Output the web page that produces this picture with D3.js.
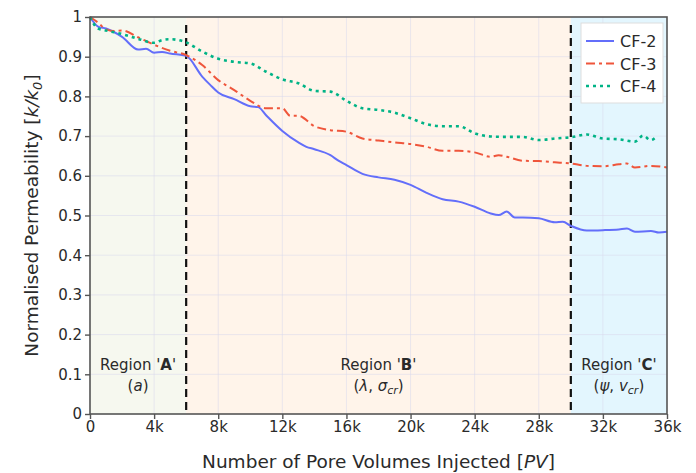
<!DOCTYPE html>
<html>
<head>
<meta charset="utf-8">
<script src="https://cdn.jsdelivr.net/npm/d3@7"></script>
<style>
  body { margin: 0; background: #fff; }
  text { font-family: Verdana, "DejaVu Sans", sans-serif; fill: #2a2a2a; }
</style>
</head>
<body>
<div class="chart"></div>
<script>
// pore volumes injected, in thousands
var pv2 = [0, 0.5, 1, 2, 3, 3.5, 4, 4.5, 5, 6, 7, 7.5, 8, 9, 10, 10.5, 11, 12, 13, 13.5, 14, 15, 15.5, 16, 17, 18, 19, 20, 21, 22, 23, 24, 25, 25.5, 26, 26.5, 27, 28, 29, 29.5, 30, 31, 32, 33, 33.5, 34, 35, 35.5, 36];
var cf2 = [1.0, 0.976, 0.971, 0.95, 0.918, 0.92, 0.91, 0.912, 0.908, 0.902, 0.85, 0.829, 0.81, 0.793, 0.775, 0.773, 0.752, 0.713, 0.684, 0.673, 0.667, 0.652, 0.638, 0.627, 0.605, 0.596, 0.59, 0.577, 0.557, 0.541, 0.535, 0.522, 0.505, 0.501, 0.51, 0.495, 0.495, 0.493, 0.483, 0.484, 0.474, 0.462, 0.463, 0.465, 0.467, 0.459, 0.461, 0.457, 0.459];

var pv3 = [0, 0.5, 1, 1.5, 2, 3, 4, 5, 6, 7, 8, 9, 10, 11, 12, 12.5, 13, 14, 15, 16, 17, 18, 19, 20, 21, 22, 23, 24, 25, 25.5, 26, 27, 28, 29, 30, 31, 32, 33, 33.5, 34, 35, 36];
var cf3 = [1.0, 0.986, 0.969, 0.965, 0.966, 0.949, 0.93, 0.915, 0.904, 0.879, 0.841, 0.816, 0.789, 0.77, 0.77, 0.751, 0.751, 0.725, 0.715, 0.711, 0.694, 0.689, 0.684, 0.68, 0.673, 0.663, 0.663, 0.659, 0.648, 0.652, 0.648, 0.638, 0.637, 0.634, 0.631, 0.625, 0.624, 0.629, 0.631, 0.621, 0.625, 0.621];

var pv4 = [0, 0.5, 1, 2, 3, 4, 4.5, 5, 6, 7, 8, 9, 10, 11, 12, 13, 14, 15, 16, 17, 18, 19, 20, 21, 22, 23, 24, 25, 26, 27, 28, 29, 30, 31, 32, 33, 34, 34.5, 35, 35.3];
var cf4 = [1.0, 0.971, 0.966, 0.957, 0.945, 0.935, 0.942, 0.944, 0.936, 0.913, 0.895, 0.887, 0.883, 0.862, 0.843, 0.833, 0.814, 0.812, 0.789, 0.77, 0.766, 0.759, 0.745, 0.73, 0.725, 0.725, 0.707, 0.699, 0.698, 0.698, 0.69, 0.694, 0.697, 0.704, 0.694, 0.692, 0.686, 0.701, 0.69, 0.697];

var xTicks = [0, 4, 8, 12, 16, 20, 24, 28, 32, 36];
var yTicks = [0, 0.1, 0.2, 0.3, 0.4, 0.5, 0.6, 0.7, 0.8, 0.9, 1];

var seriesNames = ["CF-2", "CF-3", "CF-4"];
var seriesColors = ["#636efa", "#ef553b", "#00b386"];
var seriesDash = [null, "9,4,3,4", "3,4"];

// region boundaries (thousand PV)
var regionEdges = [0, 6, 30, 36];
var regionColors = ["#f6f8ef", "#fff4ea", "#e3f6fe"];

var svgWidth = 696, svgHeight = 473;
var margin = { top: 17, bottom: 59, right: 29, left: 90 };
var width = svgWidth - margin.left - margin.right;
var height = svgHeight - margin.top - margin.bottom;

var svg = d3.select(".chart").append("svg")
  .attr("width", svgWidth)
  .attr("height", svgHeight);

var chartGroup = svg.append("g")
  .attr("transform", `translate(${margin.left}, ${margin.top})`);

var xScale = d3.scaleLinear().domain([0, 36]).range([0, width]);
var yScale = d3.scaleLinear().domain([0, 1]).range([height, 0]);

// region shading
for (var i = 0; i < 3; i++) {
  chartGroup.append("rect")
    .attr("x", xScale(regionEdges[i]))
    .attr("y", 0)
    .attr("width", xScale(regionEdges[i + 1]) - xScale(regionEdges[i]))
    .attr("height", height)
    .attr("fill", regionColors[i]);
}

// grid
chartGroup.append("g").selectAll("line").data(xTicks.slice(1, -1)).enter()
  .append("line")
  .attr("x1", d => xScale(d)).attr("x2", d => xScale(d))
  .attr("y1", 0).attr("y2", height)
  .attr("stroke", "#d8d8ec").attr("stroke-opacity", 0.55).attr("stroke-width", 1);
chartGroup.append("g").selectAll("line").data(yTicks.slice(1, -1)).enter()
  .append("line")
  .attr("y1", d => yScale(d)).attr("y2", d => yScale(d))
  .attr("x1", 0).attr("x2", width)
  .attr("stroke", "#d8d8ec").attr("stroke-opacity", 0.55).attr("stroke-width", 1);

// boundaries
chartGroup.selectAll(".bound").data([6, 30]).enter()
  .append("line")
  .attr("x1", d => xScale(d)).attr("x2", d => xScale(d))
  .attr("y1", 8).attr("y2", height)
  .attr("stroke", "#111").attr("stroke-width", 2.2)
  .attr("stroke-dasharray", "8,5");

// lines
var line = d3.line()
  .x(d => xScale(d[0]))
  .y(d => yScale(d[1]))
  .curve(d3.curveMonotoneX);

var allSeries = [
  d3.zip(pv2, cf2),
  d3.zip(pv3, cf3),
  d3.zip(pv4, cf4)
];

allSeries.forEach(function(data, i) {
  chartGroup.append("path")
    .datum(data)
    .attr("d", line)
    .attr("fill", "none")
    .attr("stroke", seriesColors[i])
    .attr("stroke-width", i == 2 ? 2.6 : 2)
    .attr("stroke-dasharray", seriesDash[i]);
});

// frame
chartGroup.append("rect")
  .attr("width", width).attr("height", height)
  .attr("fill", "none").attr("stroke", "#555").attr("stroke-width", 1.6);

// axes
var xAxis = d3.axisBottom(xScale).tickValues(xTicks)
  .tickFormat(d => d == 0 ? "0" : d + "k").tickSize(5).tickPadding(2);
var yAxis = d3.axisLeft(yScale).tickValues(yTicks)
  .tickFormat(d => d3.format("~g")(d)).tickSize(5).tickPadding(3);

var gx = chartGroup.append("g").attr("transform", `translate(0, ${height})`).call(xAxis);
var gy = chartGroup.append("g").call(yAxis);
[gx, gy].forEach(function(g) {
  g.select(".domain").remove();
  g.selectAll("line").attr("stroke", "#555").attr("stroke-width", 1.4);
  g.selectAll("text").style("font-size", "15px").attr("fill", "#2a2a2a");
});

// axis titles
var xt = svg.append("text")
  .attr("x", margin.left + width / 2).attr("y", 468)
  .attr("text-anchor", "middle")
  .style("font-size", "18.5px");
xt.append("tspan").text("Number of Pore Volumes Injected [");
xt.append("tspan").style("font-style", "italic").text("PV");
xt.append("tspan").text("]");

var yt = svg.append("text")
  .attr("transform", `translate(38, ${margin.top + height / 2}) rotate(-90)`)
  .attr("text-anchor", "middle")
  .style("font-size", "18.5px");
yt.append("tspan").text("Normalised Permeability [");
yt.append("tspan").style("font-style", "italic").text("k/k");
yt.append("tspan").style("font-style", "italic").style("font-size", "13px").attr("dy", 4).text("0");
yt.append("tspan").attr("dy", -4).text("]");

// region labels
var regionLetters = ["A", "B", "C"];
var regionParams = [
  [["a", true]],
  [["λ", true], [", ", false], ["σ", true], ["cr", true, true]],
  [["ψ", true], [", ", false], ["v", true], ["cr", true, true]]
];
for (var r = 0; r < 3; r++) {
  var cx = xScale((regionEdges[r] + regionEdges[r + 1]) / 2);
  var t1 = chartGroup.append("text")
    .attr("x", cx).attr("y", 353)
    .attr("text-anchor", "middle").style("font-size", "15px");
  t1.append("tspan").text("Region '");
  t1.append("tspan").style("font-weight", "bold").text(regionLetters[r]);
  t1.append("tspan").text("'");

  var t2 = chartGroup.append("text")
    .attr("x", cx).attr("y", 374)
    .attr("text-anchor", "middle").style("font-size", "15px");
  t2.append("tspan").text("(");
  regionParams[r].forEach(function(p) {
    var s = t2.append("tspan").text(p[0]);
    if (p[1]) s.style("font-style", "italic");
    if (p[2]) s.style("font-size", "11px").attr("dy", 3);
  });
  var close = t2.append("tspan").text(")");
  if (r > 0) close.attr("dy", -3);
}

// legend
var legend = svg.append("g").attr("transform", "translate(581, 23)");
legend.append("rect")
  .attr("width", 82).attr("height", 80)
  .attr("fill", "#fff").attr("stroke", "#ddd").attr("stroke-width", 1);
seriesNames.forEach(function(name, i) {
  var yy = 18 + i * 22.5;
  legend.append("line")
    .attr("x1", 5).attr("x2", 33).attr("y1", yy).attr("y2", yy)
    .attr("stroke", seriesColors[i])
    .attr("stroke-width", i == 2 ? 2.6 : 2)
    .attr("stroke-dasharray", seriesDash[i]);
  legend.append("text")
    .attr("x", 39).attr("y", yy + 6)
    .style("font-size", "16px").text(name);
});
</script>
</body>
</html>
